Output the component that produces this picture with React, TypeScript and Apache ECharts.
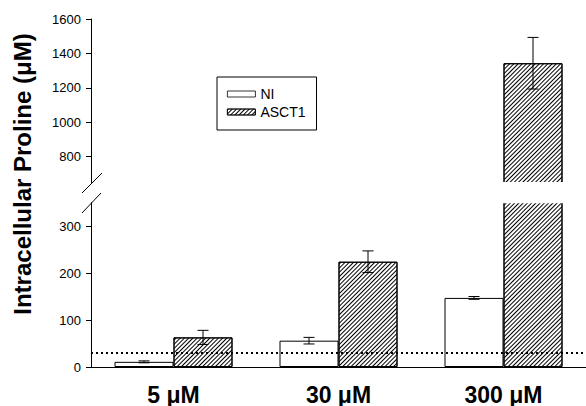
import React, { useEffect, useRef } from "react";
import * as echarts from "echarts";

const categories = ["5 μM", "30 μM", "300 μM"];
const niValues = [11, 56, 147];
const niErrors = [2, 7, 3];
const asct1Values = [63, 224, 1343];
const asct1Errors = [15, 23, 150];
const lowerTicks = [0, 100, 200, 300];
const upperTicks = [800, 1000, 1200, 1400, 1600];
const baselineValue = 30;

const FONT = "'Liberation Sans', Arial, sans-serif";
const BAR_W = 59;
const LOWER = { min: 0, max: 350 };
const UPPER = { min: 650, max: 1600 };

const hatch = {
  symbol: "rect",
  symbolSize: 1,
  color: "#000",
  backgroundColor: "#fff",
  dashArrayX: [1, 0],
  dashArrayY: [1, 2],
  rotation: -Math.PI / 4,
};

function errorSeries(values: number[], errors: number[], sign: number, gridIdx: number, range: { min: number; max: number }) {
  const data: number[][] = [];
  values.forEach((v, i) => {
    const lo = v - errors[i];
    const hi = v + errors[i];
    if (lo >= range.min && hi <= range.max) data.push([i, lo, hi]);
  });
  return {
    type: "custom",
    xAxisIndex: gridIdx,
    yAxisIndex: gridIdx,
    z: 5,
    data,
    renderItem: (params: any, api: any) => {
      const top = api.coord([api.value(0), api.value(2)]);
      const bot = api.coord([api.value(0), api.value(1)]);
      const x = top[0] + (sign * BAR_W) / 2;
      const cap = 5.5;
      const style = { stroke: "#000", lineWidth: 1, fill: "none" };
      return {
        type: "group",
        children: [
          { type: "line", shape: { x1: x, y1: top[1], x2: x, y2: bot[1] }, style },
          { type: "line", shape: { x1: x - cap, y1: top[1], x2: x + cap, y2: top[1] }, style },
          { type: "line", shape: { x1: x - cap, y1: bot[1], x2: x + cap, y2: bot[1] }, style },
        ],
      };
    },
  };
}

export default function App() {
  const ref = useRef<HTMLDivElement>(null);
  useEffect(() => {
    document.body.style.margin = "0";
    const chart = echarts.init(ref.current!, null, { renderer: "svg" });
    const axisLabel = { color: "#000", fontSize: 13, fontFamily: FONT, margin: 10, formatter: (v: number) => String(v) };
    const axisLine = { show: true, lineStyle: { color: "#000", width: 1 } };
    const axisTick = { show: true, length: 5, lineStyle: { color: "#000" } };
    const niStyle = { color: "#fff", borderColor: "#000", borderWidth: 1 };
    const asStyle = { color: "#fff", borderColor: "#000", borderWidth: 1, decal: hatch };
    chart.setOption({
      animation: false,
      backgroundColor: "#fff",
      grid: [
        { left: 91, top: 19, width: 498, height: 163.5 },
        { left: 91, top: 202.5, width: 498, height: 164.8 },
      ],
      legend: {
        data: ["NI", "ASCT1"],
        orient: "vertical",
        left: 217,
        top: 77,
        padding: [10, 11, 11, 10],
        itemGap: 4,
        itemWidth: 28,
        itemHeight: 6,
        borderColor: "#000",
        borderWidth: 1,
        icon: "rect",
        itemStyle: { borderWidth: 0.8 },
        textStyle: { fontSize: 14, color: "#000", fontFamily: FONT },
      },
      xAxis: [
        { type: "category", gridIndex: 0, data: categories, show: false },
        {
          type: "category",
          gridIndex: 1,
          data: categories,
          axisLine: { lineStyle: { color: "#000", width: 1 } },
          axisTick: { show: false },
          axisLabel: { color: "#000", fontSize: 23, fontWeight: "bold", fontFamily: FONT, margin: 16 },
        },
      ],
      yAxis: [
        {
          type: "value",
          gridIndex: 0,
          min: UPPER.min,
          max: UPPER.max,
          axisLine,
          axisTick: { ...axisTick, customValues: upperTicks },
          axisLabel: { ...axisLabel, customValues: upperTicks },
          splitLine: { show: false },
        },
        {
          type: "value",
          gridIndex: 1,
          min: LOWER.min,
          max: LOWER.max,
          axisLine,
          axisTick: { ...axisTick, customValues: lowerTicks },
          axisLabel: { ...axisLabel, customValues: lowerTicks },
          splitLine: { show: false },
        },
      ],
      series: [
        { name: "NI", type: "bar", xAxisIndex: 0, yAxisIndex: 0, data: niValues, barWidth: BAR_W, barGap: "0%", itemStyle: niStyle },
        { name: "ASCT1", type: "bar", xAxisIndex: 0, yAxisIndex: 0, data: asct1Values, barWidth: BAR_W, barGap: "0%", itemStyle: asStyle },
        {
          name: "NI",
          type: "bar",
          xAxisIndex: 1,
          yAxisIndex: 1,
          data: niValues,
          barWidth: BAR_W,
          barGap: "0%",
          itemStyle: niStyle,
          markLine: {
            silent: true,
            symbol: "none",
            label: { show: false },
            z: 10,
            lineStyle: { color: "#000", type: [2, 3], width: 2 },
            data: [{ yAxis: baselineValue }],
          },
        },
        { name: "ASCT1", type: "bar", xAxisIndex: 1, yAxisIndex: 1, data: asct1Values, barWidth: BAR_W, barGap: "0%", itemStyle: asStyle },
        errorSeries(niValues, niErrors, -1, 0, UPPER),
        errorSeries(asct1Values, asct1Errors, 1, 0, UPPER),
        errorSeries(niValues, niErrors, -1, 1, LOWER),
        errorSeries(asct1Values, asct1Errors, 1, 1, LOWER),
      ],
      graphic: [
        { type: "rect", z: 100, shape: { x: 92, y: 182, width: 500, height: 21.2 }, style: { fill: "#fff" } },
        { type: "line", z: 101, shape: { x1: 82, y1: 193, x2: 102, y2: 173 }, style: { stroke: "#000", lineWidth: 1 } },
        { type: "line", z: 101, shape: { x1: 82, y1: 213, x2: 101, y2: 193 }, style: { stroke: "#000", lineWidth: 1 } },
        {
          type: "text",
          z: 101,
          x: 22,
          y: 174,
          rotation: Math.PI / 2,
          style: {
            text: "Intracellular Proline (μM)",
            fontSize: 24,
            fontWeight: "bold",
            fontFamily: FONT,
            fill: "#000",
            align: "center",
            verticalAlign: "middle",
          },
        },
      ],
    });
    return () => chart.dispose();
  }, []);
  return <div ref={ref} style={{ width: 586, height: 406 }} />;
}
